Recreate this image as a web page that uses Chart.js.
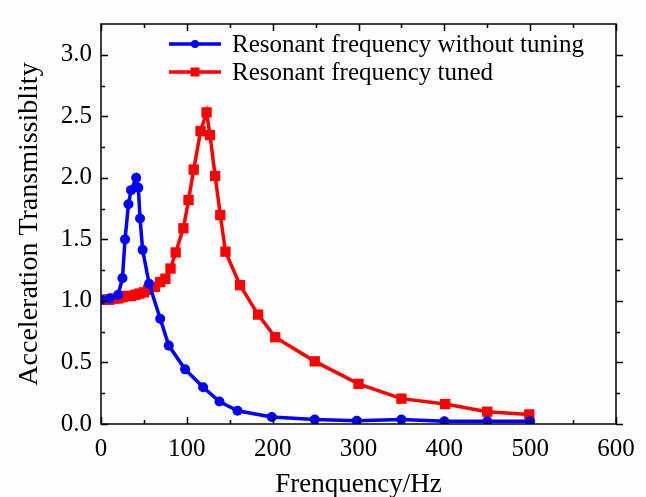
<!DOCTYPE html>
<html>
<head>
<meta charset="utf-8">
<script src="https://cdn.jsdelivr.net/npm/chart.js@4/dist/chart.umd.min.js"></script>
<style>
  html, body { margin: 0; padding: 0; background: #fdfdfd; }
  #wrap { width: 646px; height: 497px; }
</style>
</head>
<body>
<div id="wrap"><canvas id="c"></canvas></div>
<script>
// Resonant frequency without tuning (Hz, transmissibility)
const freqUntuned = [0, 10, 20, 25, 28, 32, 35, 41, 43.5, 45.5, 48.5, 56, 69, 79, 98, 119, 138, 159, 199, 249, 298, 350, 400, 450, 500];
const transUntuned = [1.01, 1.02, 1.05, 1.185, 1.5, 1.785, 1.9, 2.0, 1.92, 1.67, 1.415, 1.14, 0.855, 0.637, 0.444, 0.298, 0.183, 0.107, 0.057, 0.037, 0.027, 0.037, 0.023, 0.023, 0.023];

// Resonant frequency tuned
const freqTuned = [0, 5, 10, 15, 20, 25, 30, 35, 40, 45, 50, 55, 63, 69, 75, 81, 87, 96, 102, 108, 116, 123, 127, 133, 139, 145, 162, 183, 203, 249, 300, 350, 401, 450, 499];
const transTuned = [1.01, 1.01, 1.01, 1.02, 1.02, 1.03, 1.04, 1.04, 1.05, 1.06, 1.07, 1.09, 1.114, 1.153, 1.18, 1.263, 1.394, 1.59, 1.82, 2.067, 2.38, 2.532, 2.347, 2.015, 1.697, 1.40, 1.128, 0.889, 0.705, 0.509, 0.326, 0.206, 0.162, 0.10, 0.078];

const seriesNames = ["Resonant frequency without tuning", "Resonant frequency tuned"];
const xTicks = [0, 100, 200, 300, 400, 500, 600];
const yTicks = [0, 0.5, 1.0, 1.5, 2.0, 2.5, 3.0];

const SERIF = "'Liberation Serif', 'DejaVu Serif', serif";

const toPoints = (xs, ys) => xs.map((x, i) => ({ x, y: ys[i] }));

// box frame with inward ticks, like the original plot
const frameTicks = {
  id: "frameTicks",
  afterDatasetsDraw(chart) {
    const { ctx, chartArea: a, scales } = chart;
    const x = scales.x, y = scales.y;
    ctx.save();
    ctx.strokeStyle = "#000";
    ctx.lineWidth = 1.5;
    ctx.strokeRect(a.left, a.top, a.right - a.left, a.bottom - a.top);
    ctx.beginPath();
    xTicks.forEach((v, i) => {
      const px = Math.round(x.getPixelForValue(v)) + 0.5;
      ctx.moveTo(px, a.bottom); ctx.lineTo(px, a.bottom - 7);
      ctx.moveTo(px, a.top); ctx.lineTo(px, a.top + 7);
      if (i < xTicks.length - 1) {
        const pm = Math.round(x.getPixelForValue((v + xTicks[i + 1]) / 2)) + 0.5;
        ctx.moveTo(pm, a.bottom); ctx.lineTo(pm, a.bottom - 4);
        ctx.moveTo(pm, a.top); ctx.lineTo(pm, a.top + 4);
      }
    });
    yTicks.forEach((v, i) => {
      const py = Math.round(y.getPixelForValue(v)) + 0.5;
      ctx.moveTo(a.left, py); ctx.lineTo(a.left + 7, py);
      ctx.moveTo(a.right, py); ctx.lineTo(a.right + 7, py);
      if (i < yTicks.length - 1) {
        const pm = Math.round(y.getPixelForValue((v + yTicks[i + 1]) / 2)) + 0.5;
        ctx.moveTo(a.left, pm); ctx.lineTo(a.left + 4, pm);
        ctx.moveTo(a.right, pm); ctx.lineTo(a.right + 4, pm);
      }
    });
    ctx.stroke();
    ctx.restore();
  },
};

// legend drawn as line + marker, which the built-in legend can't do
const lineLegend = {
  id: "lineLegend",
  afterDraw(chart) {
    const ctx = chart.ctx;
    ctx.save();
    chart.data.datasets.forEach((ds, i) => {
      const yy = 44 + i * 28;
      ctx.strokeStyle = ds.borderColor;
      ctx.lineWidth = ds.borderWidth;
      ctx.beginPath();
      ctx.moveTo(169, yy); ctx.lineTo(221, yy);
      ctx.stroke();
      ctx.fillStyle = ds.borderColor;
      if (ds.pointStyle === "rect") {
        ctx.fillRect(195 - 4.5, yy - 4.5, 9, 9);
      } else {
        ctx.beginPath();
        ctx.arc(195, yy, 4, 0, Math.PI * 2);
        ctx.fill();
      }
      ctx.fillStyle = "#000";
      ctx.font = "25px " + SERIF;
      ctx.textBaseline = "middle";
      ctx.fillText(ds.label, 232, yy + 1);
    });
    ctx.restore();
  },
};

new Chart(document.getElementById("c"), {
  type: "line",
  data: {
    datasets: [
      {
        label: seriesNames[0],
        data: toPoints(freqUntuned, transUntuned),
        borderColor: "#0000ff",
        backgroundColor: "#0000ff",
        borderWidth: 3.5,
        pointStyle: "circle",
        pointRadius: 5,
        pointBorderWidth: 0,
        tension: 0,
      },
      {
        label: seriesNames[1],
        data: toPoints(freqTuned, transTuned),
        borderColor: "#ff0000",
        backgroundColor: "#ff0000",
        borderWidth: 3.5,
        pointStyle: "rect",
        pointRadius: 7.3,
        pointBorderWidth: 0,
        tension: 0,
      },
    ],
  },
  options: {
    responsive: true,
    maintainAspectRatio: false,
    animation: false,
    layout: { padding: { left: 0, top: 9, right: 30, bottom: 0 } },
    plugins: { legend: { display: false }, tooltip: { enabled: false } },
    scales: {
      x: {
        type: "linear",
        min: 0,
        max: 600,
        afterFit: (s) => { s.height = 73; },
        afterBuildTicks: (s) => { s.ticks = xTicks.map((v) => ({ value: v })); },
        grid: { display: false, drawTicks: false },
        border: { display: false },
        ticks: { color: "#000", font: { family: SERIF, size: 25 }, padding: 10, maxRotation: 0 },
        title: {
          display: true,
          text: "Frenquency/Hz",
          color: "#000",
          font: { family: SERIF, size: 27 },
          padding: { top: 0, bottom: -4 },
        },
      },
      y: {
        min: 0,
        max: 3.25,
        afterFit: (s) => { s.width = 101; },
        afterBuildTicks: (s) => { s.ticks = yTicks.map((v) => ({ value: v })); },
        grid: { display: false, drawTicks: false },
        border: { display: false },
        ticks: {
          color: "#000",
          font: { family: SERIF, size: 25 },
          padding: 9,
          callback: (v) => Number(v).toFixed(1),
        },
        title: {
          display: true,
          text: "Acceleration Transmissiblity",
          color: "#000",
          font: { family: SERIF, size: 28 },
          padding: { top: 13, bottom: 0 },
        },
      },
    },
  },
  plugins: [frameTicks, lineLegend],
});
</script>
</body>
</html>
